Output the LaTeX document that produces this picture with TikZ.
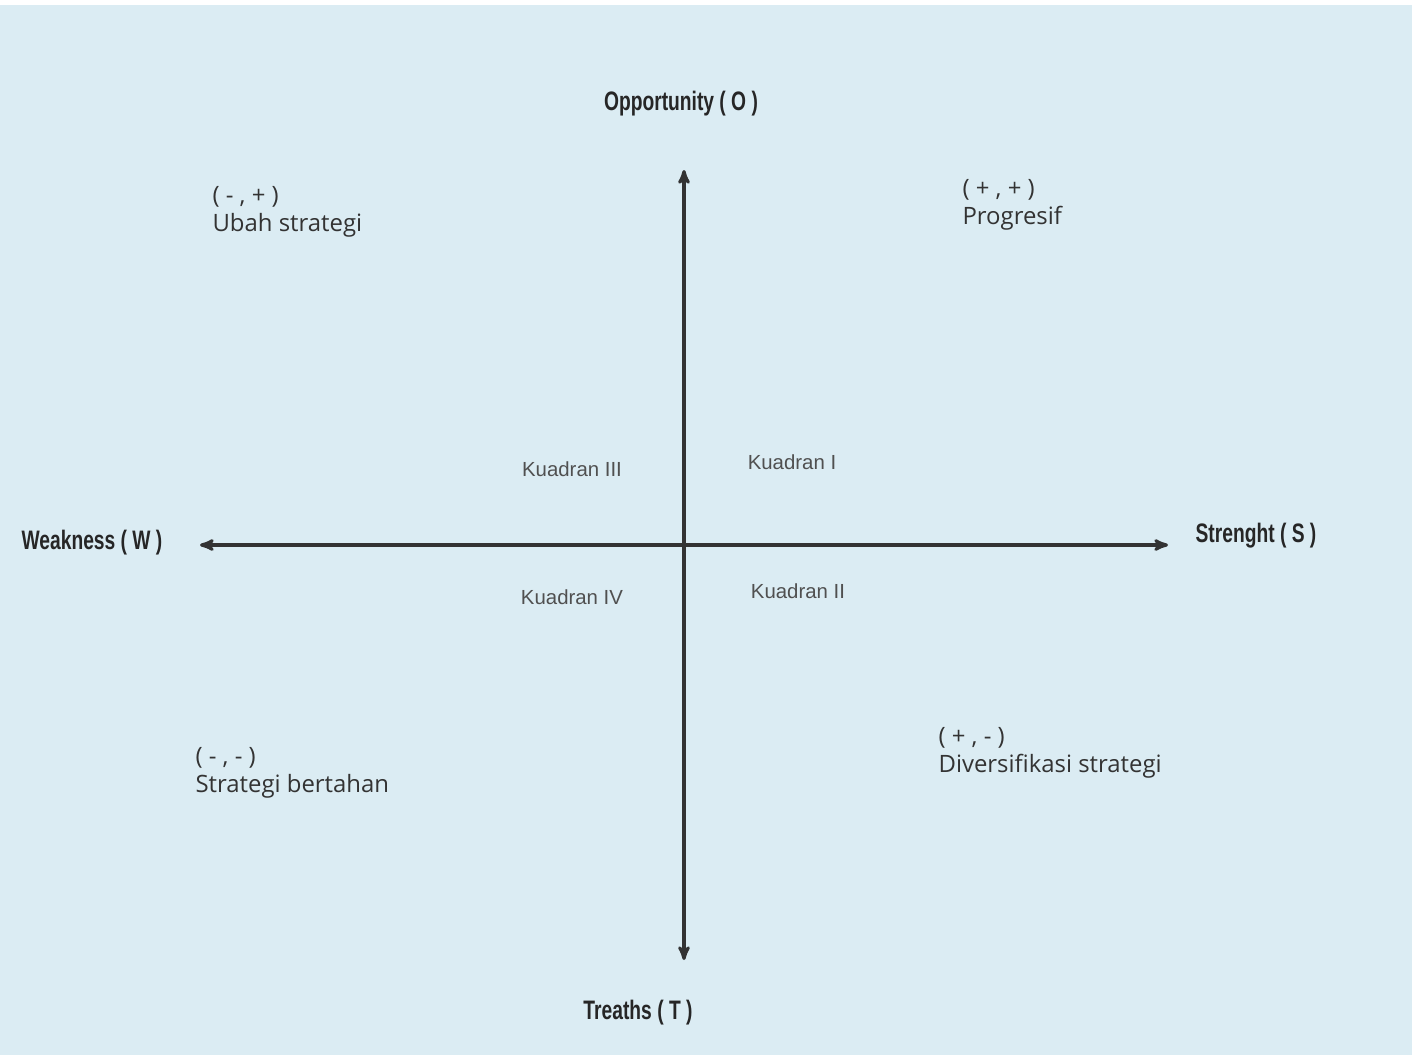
\documentclass[tikz,border=0pt]{standalone}
\usepackage{fontspec}
\usetikzlibrary{arrows}
\setmainfont{Open Sans}
\newfontfamily\axisfont{Liberation Sans}[FakeStretch=0.72]
\newfontfamily\quadfont{Liberation Sans}
\definecolor{bgblue}{RGB}{219,236,243}
\definecolor{quadgray}{RGB}{80,80,80}

\begin{document}
\begin{tikzpicture}[x=0.025cm,y=-0.025cm,<->,>=stealth',thick,
    axis label/.style={font=\axisfont\bfseries\fontsize{19}{22}\selectfont,text=black!85},
    quad label/.style={font=\quadfont\fontsize{14.5}{17}\selectfont,text=quadgray},
    corner label/.style={anchor=north west,align=left,inner sep=0pt,font=\fontsize{17}{20}\selectfont,text=black!80}]
		\useasboundingbox (0,0) rectangle (1412,1055);
		\fill[bgblue] (0,5) rectangle (1412,1055);
		
		\coordinate (west) at (200,545);
		\coordinate (east) at (1168,545);
		\coordinate (north) at (684,170);
		\coordinate (south) at (684,960);
		
		\draw[line width=2.2pt,black!80] (west) -- (east);
		\draw[line width=2.2pt,black!80] (north) -- (south);
		
		\node[axis label] (O) at (681,104) {Opportunity ( O )};
		\node[axis label] (W) at (92,543) {Weakness ( W )};
		\node[axis label] (S) at (1256,536) {Strenght ( S )};
		\node[axis label] (T) at (638,1013) {Treaths ( T )};
		
		\node[quad label] (q3) at (572,469) {Kuadran III};
		\node[quad label] (q1) at (792,462) {Kuadran I};
		\node[quad label] (q4) at (572,597) {Kuadran IV};
		\node[quad label] (q2) at (798,591) {Kuadran II};
		
		\node[corner label] (ubah) at (212,186) {( - , + )\\Ubah strategi};
		\node[corner label] (prog) at (962,179) {( + , + )\\Progresif};
		\node[corner label] (tahan) at (195,747) {( - , - )\\Strategi bertahan};
		\node[corner label] (divers) at (938,727) {( + , - )\\Diversifikasi strategi};
		\end{tikzpicture}
\end{document}
